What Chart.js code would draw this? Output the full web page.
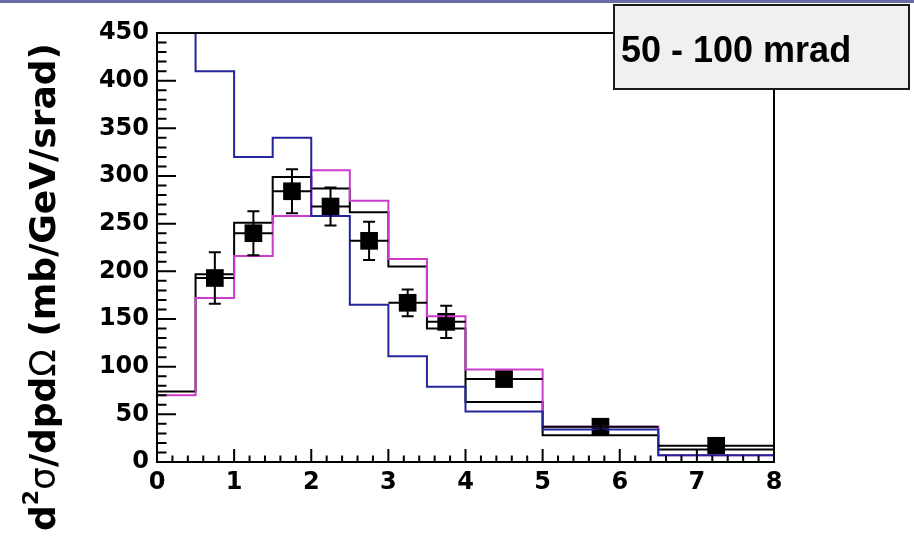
<!DOCTYPE html>
<html>
<head>
<meta charset="utf-8">
<script src="https://cdn.jsdelivr.net/npm/chart.js@4.4.0/dist/chart.umd.min.js"></script>
<style>
  html, body { margin: 0; padding: 0; background: #fff; }
  #wrap { position: relative; width: 914px; height: 548px; overflow: hidden; }
  #band { position: absolute; left: 0; top: 0; width: 914px; height: 3px; background: #6a6aa8; }
</style>
</head>
<body>
<div id="wrap">
  <canvas id="c" width="914" height="548"></canvas>
  <div id="band"></div>
</div>
<script>
// momentum bins (GeV/c), variable width
const binEdges = [0, 0.5, 1, 1.5, 2, 2.5, 3, 3.5, 4, 5, 6.5, 8];

// model predictions per bin (mb/GeV/srad)
const modelBlue    = [520, 410, 320, 340, 258, 165, 111, 79, 53, 34, 7];
const modelMagenta = [70, 172, 216, 258, 306, 274, 213, 153, 97, 37, 7];
const modelBlack   = [74, 197, 251, 299, 287, 262, 205, 140, 63, 28, 13];

// measured points
const dataX    = [0.75, 1.25, 1.75, 2.25, 2.75, 3.25, 3.75, 4.5, 5.75, 7.25];
const dataY    = [193, 240, 284, 268, 232, 167, 147, 87, 37, 17];
const dataYErr = [27, 23, 23, 20, 20, 14, 17, 6, 4, 3];
const dataXErr = [0.25, 0.25, 0.25, 0.25, 0.25, 0.25, 0.25, 0.5, 0.75, 0.75];

const angleLabel = "50 - 100 mrad";

// one point per bin edge; the last value is repeated to close the final bin
const histPoints = (vals) =>
  binEdges.map((e, i) => ({ x: e, y: vals[Math.min(i, vals.length - 1)] }));

const histDataset = (vals, color) => ({
  data: histPoints(vals),
  borderColor: color,
  borderWidth: 2,
  stepped: "before",
  pointRadius: 0,
  fill: false,
});

const tickFont = { family: "DejaVu Sans", weight: "bold", size: 24 };

// error bars, frame, inner ticks, label box and the y title
const decorations = {
  id: "decorations",
  afterDatasetsDraw(chart) {
    const { ctx, scales } = chart;
    const x = scales.x, y = scales.y;
    ctx.save();
    ctx.strokeStyle = "#000";
    ctx.lineWidth = 2;
    dataX.forEach((xv, i) => {
      const px = x.getPixelForValue(xv);
      const py = y.getPixelForValue(dataY[i]);
      const x0 = x.getPixelForValue(xv - dataXErr[i]);
      const x1 = x.getPixelForValue(xv + dataXErr[i]);
      const yTop = y.getPixelForValue(dataY[i] + dataYErr[i]);
      const yBot = y.getPixelForValue(dataY[i] - dataYErr[i]);
      ctx.beginPath();
      ctx.moveTo(x0, py); ctx.lineTo(x1, py);
      ctx.moveTo(px, yTop); ctx.lineTo(px, yBot);
      ctx.moveTo(px - 6, yTop); ctx.lineTo(px + 6, yTop);
      ctx.moveTo(px - 6, yBot); ctx.lineTo(px + 6, yBot);
      ctx.stroke();
    });
    ctx.restore();
  },
  afterDraw(chart) {
    const { ctx, chartArea: a, scales } = chart;
    const x = scales.x, y = scales.y;
    ctx.save();
    ctx.strokeStyle = "#000";
    ctx.lineWidth = 2;
    ctx.strokeRect(a.left, a.top, a.right - a.left, a.bottom - a.top);

    // ticks point inward
    ctx.beginPath();
    for (let v = 0; v <= 450; v += 10) {
      const py = y.getPixelForValue(v);
      const len = v % 50 === 0 ? 19 : 9.5;
      ctx.moveTo(a.left, py); ctx.lineTo(a.left + len, py);
    }
    for (let k = 0; k <= 40; k++) {
      const px = x.getPixelForValue(k * 0.2);
      const len = k % 5 === 0 ? 13 : 6.5;
      ctx.moveTo(px, a.bottom); ctx.lineTo(px, a.bottom - len);
    }
    ctx.stroke();

    // angular range box
    ctx.fillStyle = "#f0f0f0";
    ctx.fillRect(614, 5, 295, 84);
    ctx.strokeStyle = "#1a1a1a";
    ctx.strokeRect(614, 5, 295, 84);
    ctx.fillStyle = "#000";
    ctx.font = "bold 36px 'Liberation Sans'";
    ctx.textBaseline = "alphabetic";
    ctx.textAlign = "left";
    ctx.fillText(angleLabel, 621, 62);

    // y title, rotated, with plain greek letters
    ctx.translate(55, 531);
    ctx.rotate(-Math.PI / 2);
    const bold = "bold 36px 'DejaVu Sans'";
    const plain = "36px 'DejaVu Sans'";
    const parts = [
      { t: "d", f: bold, dy: 0 },
      { t: "2", f: "bold 22px 'DejaVu Sans'", dy: -17 },
      { t: "\u03c3", f: plain, dy: 0 },
      { t: "/dpd", f: bold, dy: 0 },
      { t: "\u03a9", f: plain, dy: 0 },
      { t: " (mb/GeV/srad)", f: bold, dy: 0 },
    ];
    let cx = 0;
    parts.forEach((p) => {
      ctx.font = p.f;
      ctx.fillText(p.t, cx, p.dy);
      cx += ctx.measureText(p.t).width;
    });
    ctx.restore();
  },
};

new Chart(document.getElementById("c"), {
  type: "line",
  data: {
    datasets: [
      histDataset(modelBlue, "#24249c"),
      histDataset(modelMagenta, "#cc3ccc"),
      histDataset(modelBlack, "#000"),
      {
        type: "scatter",
        data: dataX.map((xv, i) => ({ x: xv, y: dataY[i] })),
        pointStyle: "rect",
        pointRadius: 12.5,
        pointBorderWidth: 0,
        backgroundColor: "#000",
        showLine: false,
      },
    ],
  },
  options: {
    responsive: false,
    animation: false,
    devicePixelRatio: 1,
    layout: { padding: { left: 0, top: 33, right: 140, bottom: 0 } },
    plugins: { legend: { display: false }, tooltip: { enabled: false } },
    scales: {
      x: {
        type: "linear",
        min: 0,
        max: 8,
        grid: { display: false, drawTicks: false },
        border: { display: false },
        ticks: { stepSize: 1, padding: 6, color: "#000", font: tickFont },
        afterFit: (s) => { s.height = 86; },
      },
      y: {
        type: "linear",
        min: 0,
        max: 450,
        grid: { display: false, drawTicks: false },
        border: { display: false },
        ticks: { stepSize: 50, padding: 8, color: "#000", font: tickFont },
        afterFit: (s) => { s.width = 157; },
      },
    },
  },
  plugins: [decorations],
});
</script>
</body>
</html>
